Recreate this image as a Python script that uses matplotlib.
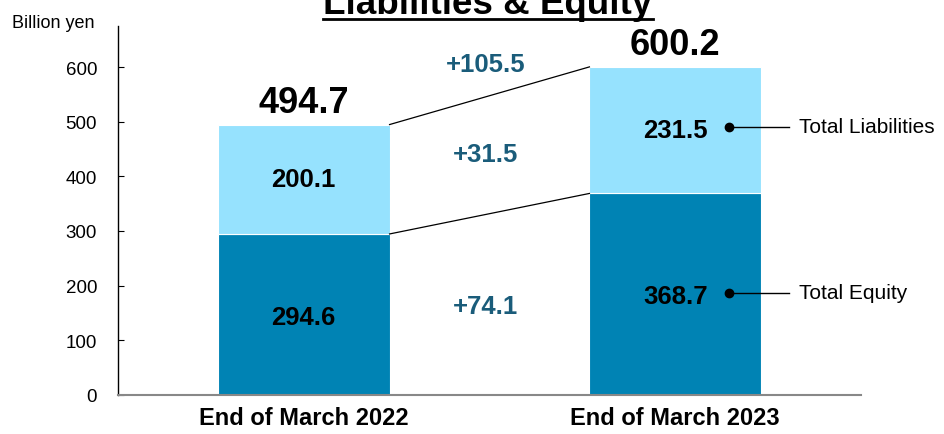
import matplotlib.pyplot as plt
from matplotlib.lines import Line2D

plt.rcParams['font.family'] = ['Liberation Sans', 'DejaVu Sans']

categories = ['End of March 2022', 'End of March 2023']
equity = [294.6, 368.7]
liabilities = [200.1, 231.5]
totals = [494.7, 600.2]
delta_labels = ['+105.5', '+31.5', '+74.1']
delta_y = [605, 441, 163]
series_names = ['Total Liabilities', 'Total Equity']
yticks = [0, 100, 200, 300, 400, 500, 600]

dark = '#0083B4'
light = '#96E2FE'
teal = '#1A5C7A'

fig = plt.figure(figsize=(9.44, 4.35), dpi=100)
ax = fig.add_axes([118 / 944, 39 / 435, (861 - 118) / 944, (396 - 27) / 435])

x = [0, 1]
w = 0.462
ax.bar(x, equity, width=w, color=dark, edgecolor='white', linewidth=0.8)
ax.bar(x, liabilities, width=w, bottom=equity, color=light, edgecolor='white', linewidth=0.8)

ax.set_xlim(-0.5, 1.5)
ax.set_ylim(0, 675)

# inner values
for i in range(2):
    ax.text(x[i], equity[i] / 2 - 4, f'{equity[i]:.1f}', ha='center', va='center',
            fontsize=18.5, fontweight='bold', color='black')
    ax.text(x[i], equity[i] + liabilities[i] / 2, f'{liabilities[i]:.1f}', ha='center', va='center',
            fontsize=18.5, fontweight='bold', color='black')
    ax.text(x[i], totals[i] + 41, f'{totals[i]:.1f}', ha='center', va='center',
            fontsize=26, fontweight='bold', color='black')

# connector lines
ax.plot([x[0] + w / 2, x[1] - w / 2], [totals[0], totals[1]], color='black', lw=0.9)
ax.plot([x[0] + w / 2, x[1] - w / 2], [equity[0], equity[1]], color='black', lw=0.9)

for lab, yy in zip(delta_labels, delta_y):
    ax.text(0.49, yy, lab, ha='center', va='center', fontsize=18.5, fontweight='bold', color=teal)

# series callouts
dot_y = [equity[1] + liabilities[1] / 2 + 6, equity[1] / 2 + 3]
for name, yy in zip(series_names, dot_y):
    ax.plot([1.145, 1.306], [yy, yy], color='black', lw=1)
    ax.plot([1.145], [yy], 'o', color='black', ms=6)
    ax.text(1.333, yy, name, ha='left', va='center', fontsize=15, color='black')

for s in ['top', 'right']:
    ax.spines[s].set_visible(False)
ax.spines['left'].set_linewidth(1)
ax.spines['bottom'].set_color('#888888')
ax.spines['bottom'].set_linewidth(1.5)

ax.set_yticks(yticks)
ax.tick_params(axis='y', direction='in', length=4, pad=15, labelsize=13.5)
ax.set_xticks(x)
ax.set_xticklabels(categories, fontsize=17, fontweight='bold')
ax.tick_params(axis='x', length=0, pad=8)

fig.text(95 / 944, 1 - 24 / 435, 'Billion yen', ha='right', va='center', fontsize=13)

title = fig.text(488 / 944, 1 - 14 / 435, 'Liabilities & Equity', ha='center', va='baseline',
                 fontsize=26.5, fontweight='bold')
fig.canvas.draw()
bb = title.get_window_extent()
fig.add_artist(Line2D([bb.x0 / 944, bb.x1 / 944], [1 - 20 / 435, 1 - 20 / 435],
                      transform=fig.transFigure, color='black', lw=2))

fig.savefig('out.png', dpi=100)
